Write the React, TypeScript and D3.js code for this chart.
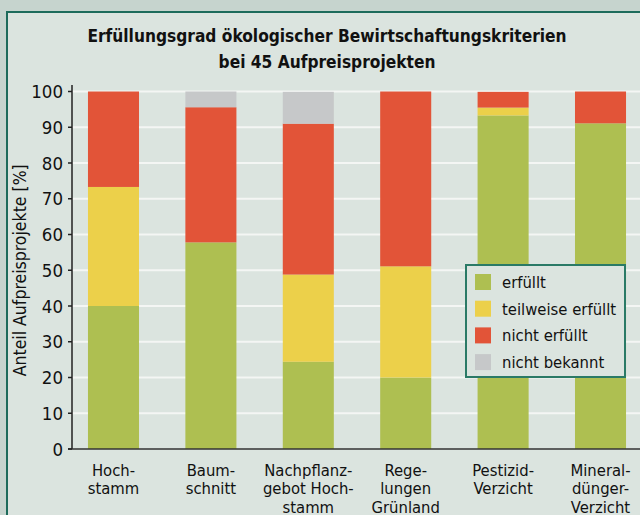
import React from "react";
import * as d3 from "d3";

const categories = ["Hochstamm", "Baumschnitt", "Nachpflanzgebot Hochstamm", "Regelungen Grünland", "Pestizid-Verzicht", "Mineraldünger-Verzicht"];
const categoryLines = [
  ["Hoch-", "stamm"],
  ["Baum-", "schnitt"],
  ["Nachpflanz-", "gebot Hoch-", "stamm"],
  ["Rege-", "lungen", "Grünland"],
  ["Pestizid-", "Verzicht"],
  ["Mineral-", "dünger-", "Verzicht"],
];
const seriesNames = ["erfüllt", "teilweise erfüllt", "nicht erfüllt", "nicht bekannt"];
const erfuellt = [40.0, 57.8, 24.4, 20.0, 93.3, 91.1];
const teilweise = [33.3, 0, 24.4, 31.1, 2.2, 0];
const nichtErfuellt = [26.7, 37.8, 42.2, 48.9, 4.4, 8.9];
const nichtBekannt = [0, 4.4, 8.9, 0, 0, 0];
const yTicks = [0, 10, 20, 30, 40, 50, 60, 70, 80, 90, 100];
const titleLines = ["Erfüllungsgrad ökologischer Bewirtschaftungskriterien", "bei 45 Aufpreisprojekten"];
const yLabel = "Anteil Aufpreisprojekte [%]";

const colors = ["#aebf51", "#ecd04a", "#e25438", "#c6c8c9"];
const W = 640, H = 515;
const x0 = 72, yTop = 91.5, yBot = 449;
const cond = "'DejaVu Sans Condensed', 'Liberation Sans Narrow', sans-serif";

export default function App() {
  const y = d3.scaleLinear().domain([0, 100]).range([yBot, yTop]);
  const x = d3.scaleBand<string>().domain(categories).range([x0, 642]).paddingInner(0.476).paddingOuter(0.164);
  const rows = categories.map((c, i) => ({ cat: c, v0: erfuellt[i], v1: teilweise[i], v2: nichtErfuellt[i], v3: nichtBekannt[i] }));
  const stack = d3.stack<any>().keys(["v0", "v1", "v2", "v3"])(rows);

  return (
    <svg width={W} height={H} style={{ position: "absolute", left: 0, top: 0 }}>
      <rect x={0} y={0} width={W} height={H} fill="#c6d4ce" />
      <rect x={7} y={12} width={W} height={H} fill="#dbe4df" stroke="#1d6b5b" strokeWidth={2} />
      {titleLines.map((t, i) => (
        <text key={i} x={327} y={41.5 + i * 26} textAnchor="middle" fontFamily={cond} fontWeight="bold" fontSize={17.2} fill="#111">{t}</text>
      ))}
      {yTicks.slice(1).map((t) => (
        <line key={t} x1={x0} x2={W} y1={y(t)} y2={y(t)} stroke="#f4f6f4" strokeWidth={2} />
      ))}
      {stack.map((s, si) => (
        <g key={si} fill={colors[si]}>
          {s.map((d, i) => (
            d[1] - d[0] > 0 ? <rect key={i} x={x(categories[i])} width={x.bandwidth()} y={y(d[1])} height={y(d[0]) - y(d[1])} /> : null
          ))}
        </g>
      ))}
      <line x1={x0} x2={x0} y1={85} y2={yBot} stroke="#222" strokeWidth={1.5} />
      <line x1={x0 - 4} x2={W} y1={yBot} y2={yBot} stroke="#333" strokeWidth={1.5} />
      {yTicks.map((t) => (
        <g key={t}>
          <line x1={x0 - 4} x2={x0} y1={y(t)} y2={y(t)} stroke="#222" strokeWidth={1.5} />
          <text x={x0 - 9} y={y(t) + 6.5} textAnchor="end" fontFamily={cond} fontSize={18.5} fill="#111">{t}</text>
        </g>
      ))}
      <text transform={`translate(26,${(yTop + yBot) / 2}) rotate(-90)`} textAnchor="middle" fontFamily={cond} fontSize={17.5} fill="#111">{yLabel}</text>
      {categoryLines.map((lines, i) => (
        <text key={i} textAnchor="middle" fontFamily={cond} fontSize={16.5} fill="#111">
          {lines.map((l, j) => (
            <tspan key={j} x={(x(categories[i]) as number) + x.bandwidth() / 2} y={475.5 + j * 18.5}>{l}</tspan>
          ))}
        </text>
      ))}
      <g>
        <rect x={466} y={265} width={159} height={112} fill="#dbe4df" stroke="#2a7a66" strokeWidth={2} />
        {seriesNames.map((n, i) => (
          <g key={n}>
            <rect x={475} y={274 + i * 26.7} width={16} height={16} fill={colors[i]} />
            <text x={502} y={288 + i * 26.7} fontFamily={cond} fontSize={16.5} fill="#111">{n}</text>
          </g>
        ))}
      </g>
    </svg>
  );
}
